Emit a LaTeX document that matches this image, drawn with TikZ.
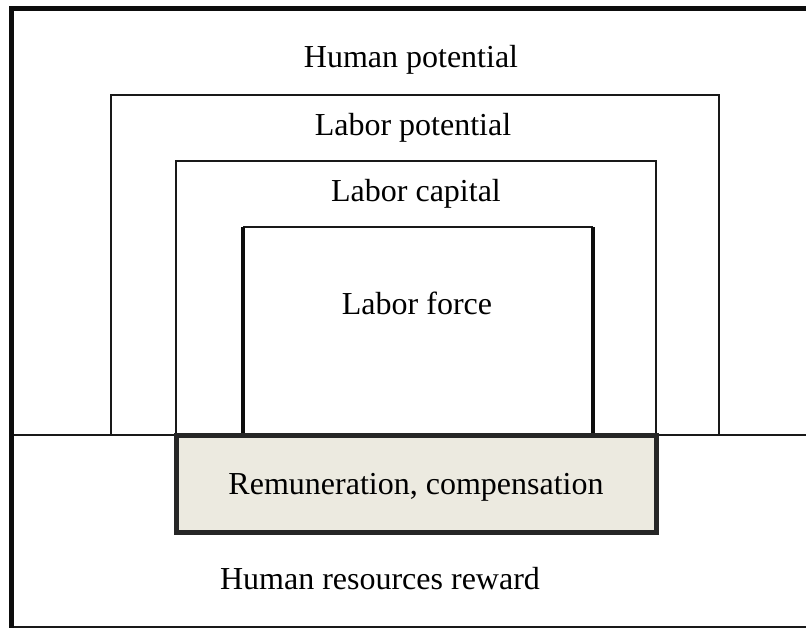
\documentclass[tikz,border=0pt]{standalone}
\usepackage{fontspec}
\setmainfont{Liberation Serif}
\usetikzlibrary{positioning}
\definecolor{ease_fill}{HTML}{ECEAE0}

\begin{document}
\begin{tikzpicture}[
    x=1pt, y=-1pt,
    frame_style/.style={line width=5pt, black!95, line cap=rect},
    thin_style/.style={line width=2pt, black!90},
    force_style/.style={line width=4pt, black!95},
    reward_style/.style={draw=black!85, line width=5pt, fill=ease_fill, inner sep=0pt,
        minimum width=480pt, minimum height=97pt, text depth=0pt},
    label_style/.style={font=\fontsize{32}{37}\selectfont, inner sep=0pt}
]
    \useasboundingbox (0,0) rectangle (806,628);

    % Outer frame and base line
    \coordinate (frame_tl) at (11.5,9);
    \coordinate (frame_tr) at (806,9);
    \coordinate (frame_bl) at (11.5,628);
    \coordinate (base_l) at (11.5,435);
    \coordinate (base_r) at (806,435);
    \draw[thin_style] (11.5,626.5) -- (806,626.5);
    \draw[thin_style] (base_l) -- (base_r);
    \draw[frame_style] (frame_bl) -- (frame_tl) -- (frame_tr);

    % Open boxes
    \draw[thin_style] (111,435) -- (111,95) -- (719,95) -- (719,435);
    \draw[thin_style] (176,435) -- (176,161) -- (656,161) -- (656,435);
    \draw[thin_style] (243,227) -- (593,227);
    \draw[force_style] (243,435) -- (243,227);
    \draw[force_style] (593,435) -- (593,227);

    % Reward box
    \node[label_style, reward_style] (remuneration) at (416,483.5) {Remuneration, compensation};

    % Labels
    \node[label_style] (human_pot) at (411,60) {Human potential};
    \node[label_style] (labor_pot) at (413,128) {Labor potential};
    \node[label_style] (labor_cap) at (416,194) {Labor capital};
    \node[label_style] (labor_force) at (417,303) {Labor force};
    \node[label_style] (hr_reward) at (380,579) {Human resources reward};

\end{tikzpicture}
\end{document}
